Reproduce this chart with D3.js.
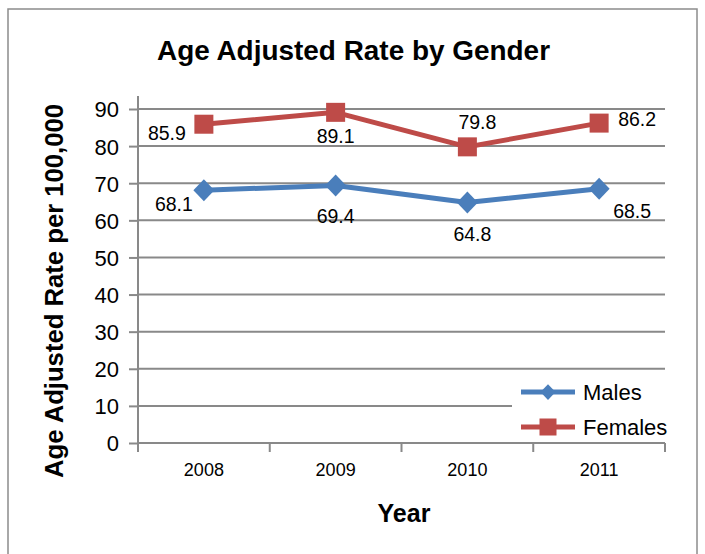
<!DOCTYPE html>
<html><head><meta charset="utf-8">
<script src="https://cdn.jsdelivr.net/npm/d3@7"></script>
<style>body{margin:0;background:#fff;} svg{display:block;font-family:"Liberation Sans",Arial,sans-serif;}</style>
</head><body>
<script>
const years = ["2008","2009","2010","2011"];
const males = [68.1, 69.4, 64.8, 68.5];
const females = [85.9, 89.1, 79.8, 86.2];
const yTicks = [0,10,20,30,40,50,60,70,80,90];
const seriesNames = ["Males","Females"];

const W = 705, H = 554;
const svg = d3.select("body").append("svg").attr("width", W).attr("height", H);
svg.append("rect").attr("x",8).attr("y",9).attr("width",689).attr("height",560)
  .attr("fill","#fff").attr("stroke","#8c8c8c").attr("stroke-width",1.5);

const x = d3.scaleBand().domain(years).range([138, 665]);
const y = d3.scaleLinear().domain([0, 90]).range([443, 109]);
const cx = d => x(d) + x.bandwidth()/2;

// gridlines
svg.append("g").selectAll("line").data(yTicks.filter(t=>t>0)).join("line")
  .attr("x1",138).attr("x2",665).attr("y1",d=>y(d)).attr("y2",d=>y(d))
  .attr("stroke","#898989").attr("stroke-width",2);

// y axis
const ya = svg.append("g").attr("transform","translate(138,0)")
  .call(d3.axisLeft(y).tickValues(yTicks).tickSize(9).tickPadding(10).tickFormat(d3.format("d")));
ya.select(".domain").attr("d", `M0,96V${y(0)}`).attr("stroke","#898989").attr("stroke-width",2);
ya.selectAll(".tick line").attr("stroke","#898989").attr("stroke-width",2);
ya.selectAll(".tick text").attr("font-size",22).attr("fill","#000").attr("font-family","Liberation Sans").attr("dy","0.36em");

// x axis
const xa = svg.append("g").attr("transform",`translate(0,${y(0)})`)
  .call(d3.axisBottom(x).tickSize(0).tickPadding(20));
xa.select(".domain").attr("d","M138,0H665").attr("stroke","#898989").attr("stroke-width",2);
xa.selectAll(".tick text").attr("font-size",18).attr("fill","#000").attr("font-family","Liberation Sans");
svg.append("g").selectAll("line").data(d3.range(years.length+1)).join("line")
  .attr("x1",i=>138+i*x.step()).attr("x2",i=>138+i*x.step())
  .attr("y1",y(0)).attr("y2",y(0)+9).attr("stroke","#898989").attr("stroke-width",2);

// titles
svg.append("text").attr("x",353.5).attr("y",60).attr("text-anchor","middle")
  .attr("font-size",27).attr("font-weight","bold").attr("textLength",393).attr("lengthAdjust","spacingAndGlyphs")
  .text("Age Adjusted Rate by Gender");
svg.append("text").attr("transform","translate(63,291) rotate(-90)").attr("text-anchor","middle")
  .attr("font-size",25).attr("font-weight","bold").attr("textLength",374).attr("lengthAdjust","spacingAndGlyphs")
  .text("Age Adjusted Rate per 100,000");
svg.append("text").attr("x",404).attr("y",522).attr("text-anchor","middle")
  .attr("font-size",25).attr("font-weight","bold").text("Year");

const colors = {Males:"#4a7ebb", Females:"#be4b48"};
const line = d3.line().x((d,i)=>cx(years[i])).y(d=>y(d));
const diamond = (r) => `M0,${-r*1.05}L${r},0L0,${r*1.05}L${-r},0Z`;

function drawSeries(vals, name){
  svg.append("path").datum(vals).attr("d",line).attr("fill","none")
    .attr("stroke",colors[name]).attr("stroke-width",5).attr("stroke-linejoin","round");
  const g = svg.append("g");
  vals.forEach((v,i)=>{
    if(name==="Males"){
      g.append("path").attr("d",diamond(10.5)).attr("transform",`translate(${cx(years[i])},${y(v)})`).attr("fill",colors[name]);
    } else {
      g.append("rect").attr("x",cx(years[i])-9.5).attr("y",y(v)-9.5).attr("width",19).attr("height",19).attr("fill",colors[name]);
    }
  });
}
drawSeries(males,"Males");
drawSeries(females,"Females");

// data labels (placement offsets relative to each marker)
const labelOffsets = {
  Males:   [[-30,21],[0,38],[5,38],[33,29]],
  Females: [[-37,16],[0,31],[10,-18],[38,3]]
};
[[males,"Males"],[females,"Females"]].forEach(([vals,name])=>{
  svg.append("g").selectAll("text").data(vals).join("text")
    .attr("x",(d,i)=>cx(years[i])+labelOffsets[name][i][0])
    .attr("y",(d,i)=>y(d)+labelOffsets[name][i][1])
    .attr("text-anchor","middle").attr("font-size",19.5).attr("fill","#000")
    .text(d=>d3.format(".1f")(d));
});

// legend
const lg = svg.append("g");
lg.append("rect").attr("x",512).attr("y",375).attr("width",156).attr("height",66).attr("fill","#fff");
seriesNames.forEach((name,i)=>{
  const ly = 392 + i*35;
  lg.append("line").attr("x1",521).attr("x2",575).attr("y1",ly).attr("y2",ly)
    .attr("stroke",colors[name]).attr("stroke-width",5);
  if(name==="Males") lg.append("path").attr("d",diamond(7.5)).attr("transform",`translate(548,${ly})`).attr("fill",colors[name]);
  else lg.append("rect").attr("x",539.5).attr("y",ly-8.5).attr("width",17).attr("height",17).attr("fill",colors[name]);
  lg.append("text").attr("x",583).attr("y",ly+8).attr("font-size",22).attr("fill","#000").text(name);
});
</script>
</body></html>
